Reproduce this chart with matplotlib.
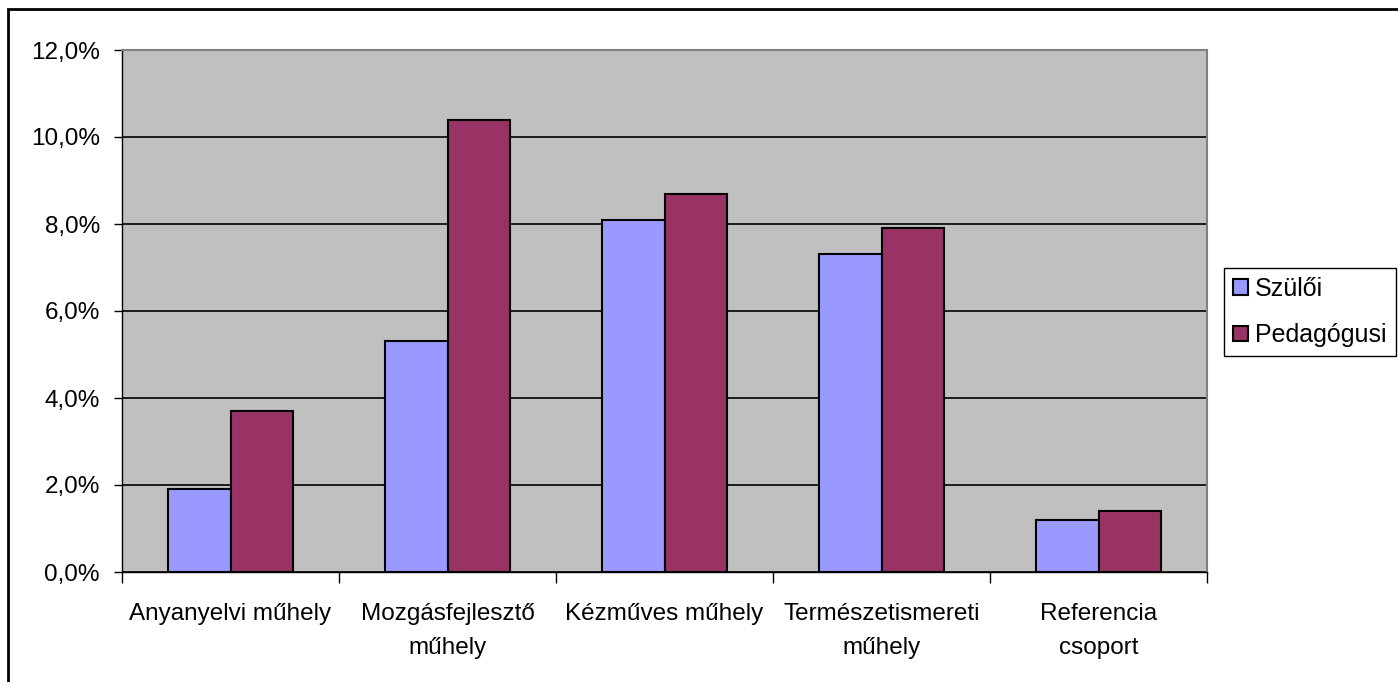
import matplotlib
matplotlib.use("Agg")
import matplotlib.pyplot as plt
from matplotlib.patches import Rectangle
from matplotlib.ticker import FuncFormatter, MultipleLocator
import numpy as np

categories = ["Anyanyelvi műhely", "Mozgásfejlesztő\nműhely", "Kézműves műhely",
              "Természetismereti\nműhely", "Referencia\ncsoport"]
szuloi = [1.9, 5.3, 8.1, 7.3, 1.2]
pedagogusi = [3.7, 10.4, 8.7, 7.9, 1.4]
series_names = ["Szülői", "Pedagógusi"]

plt.rcParams['font.family'] = ['Liberation Sans', 'DejaVu Sans']

W, H = 1398, 682
fig = plt.figure(figsize=(W/100, H/100), dpi=100)
ax = fig.add_axes([122/W, 1-572/H, (1207-122)/W, (572-50)/H])
ax.set_facecolor("#C0C0C0")

x = np.arange(len(categories))
bw = 0.29
ax.bar(x - bw/2, szuloi, bw, color="#9999FF", edgecolor="black", linewidth=1.5, label=series_names[0], zorder=3)
ax.bar(x + bw/2, pedagogusi, bw, color="#993366", edgecolor="black", linewidth=1.5, label=series_names[1], zorder=3)

ax.set_xlim(-0.5, len(categories)-0.5)
ax.set_ylim(0, 12)
ax.yaxis.set_major_locator(MultipleLocator(2))
ax.yaxis.set_major_formatter(FuncFormatter(lambda v, p: f"{v:.1f}%".replace(".", ",")))
ax.grid(axis="y", color="black", linewidth=1.2, zorder=1)
ax.set_axisbelow(True)

ax.set_xticks(x)
ax.set_xticklabels(categories, fontsize=17.5, linespacing=1.75)
ax.tick_params(axis="x", length=0, pad=22)
ax.set_xticks(np.arange(-0.5, len(categories)), minor=True)
ax.tick_params(axis="x", which="minor", length=8, width=1, color="black")
ax.tick_params(axis="y", labelsize=17.5, length=6, width=1, color="black", pad=10)

for s in ["top", "right"]:
    ax.spines[s].set_color("#808080")
    ax.spines[s].set_linewidth(1.5)
ax.spines["left"].set_color("black")
ax.spines["bottom"].set_color("black")
ax.spines["left"].set_linewidth(1)
ax.spines["bottom"].set_linewidth(1)

# outer frame
fig.patches.append(Rectangle((8/W, -0.1), 1.2, 1-9/H+0.1, transform=fig.transFigure,
                             fill=False, edgecolor="black", linewidth=2))

leg = fig.legend(loc="upper left", bbox_to_anchor=(1224/W, 1-268/H), fontsize=18,
                 frameon=True, fancybox=False, edgecolor="black", framealpha=1,
                 handlelength=0.6, handleheight=0.6, handletextpad=0.3,
                 borderpad=0.35, labelspacing=0.9, borderaxespad=0)
leg.get_frame().set_linewidth(1)

fig.savefig("out.png", dpi=100)
